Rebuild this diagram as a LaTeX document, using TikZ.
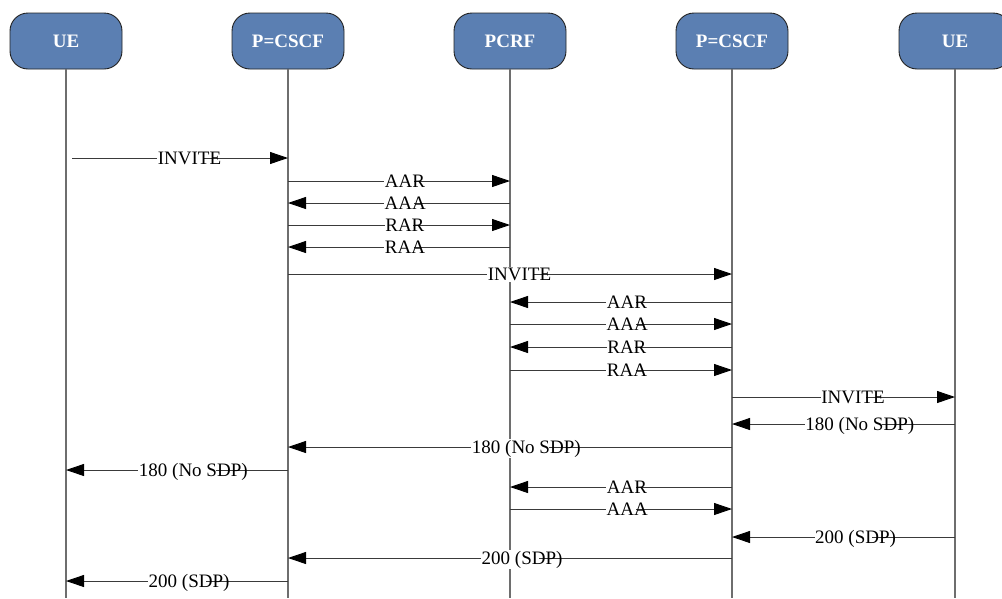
\documentclass[tikz,border=0pt]{standalone}
\usepackage{fontspec}
\setmainfont{Liberation Serif}
\usepackage{tikz}
\usetikzlibrary{arrows.meta,calc}
\definecolor{hdrblue}{HTML}{5B7FB2}
\definecolor{edge}{HTML}{222222}
\definecolor{wire}{HTML}{3A3A3A}
\definecolor{life}{HTML}{6E6E6E}
% narrow white box behind a label, text runs over its right end
\newcommand{\lblbox}[1]{\makebox[0.7\width][l]{#1}}
\tikzset{
  entity/.style={rectangle,rounded corners=18pt,draw=edge,line width=.9pt,fill=hdrblue,
    minimum width=112pt,minimum height=56pt,text=white,font=\fontsize{19}{22}\selectfont\bfseries},
  lifeline/.style={draw=life,line width=1.1pt},
  msg/.style={-{Triangle[length=18pt,width=12pt,color=black]},draw=wire,line width=.9pt},
  lbl/.style={midway,anchor=base,yshift=-6.3pt,fill=white,inner xsep=.5pt,inner ysep=1pt,
    text=black,font=\fontsize{19}{22}\selectfont}
}
\begin{document}
\begin{tikzpicture}[x=1pt,y=-1pt]
\useasboundingbox[fill=white] (0,0) rectangle (1002,598);

\node[entity] (ue1) at (66,41) {UE};
\node[entity] (pcscf1) at (288,41) {P=CSCF};
\node[entity] (pcrf) at (510,41) {PCRF};
\node[entity] (pcscf2) at (732,41) {P=CSCF};
\node[entity] (ue2) at (955,41) {UE};

\foreach \n in {ue1,pcscf1,pcrf,pcscf2,ue2}
  \draw[lifeline] (\n.south) -- (\n.south |- 0,598);

% session setup
\draw[msg] ($(ue1 |- 0,158)+(6,0)$) -- node[lbl]{\lblbox{INVITE}} (pcscf1 |- 0,158);
\draw[msg] (pcscf1 |- 0,181) -- node[lbl]{\lblbox{AAR}} (pcrf |- 0,181);
\draw[msg] (pcrf |- 0,203) -- node[lbl]{\lblbox{AAA}} (pcscf1 |- 0,203);
\draw[msg] (pcscf1 |- 0,225) -- node[lbl]{\lblbox{RAR}} (pcrf |- 0,225);
\draw[msg] (pcrf |- 0,247) -- node[lbl]{\lblbox{RAA}} (pcscf1 |- 0,247);
\draw[msg] (pcscf1 |- 0,274) -- node[lbl]{\lblbox{INVITE}} (pcscf2 |- 0,274);
\draw[msg] (pcscf2 |- 0,302) -- node[lbl]{\lblbox{AAR}} (pcrf |- 0,302);
\draw[msg] (pcrf |- 0,324) -- node[lbl]{\lblbox{AAA}} (pcscf2 |- 0,324);
\draw[msg] (pcscf2 |- 0,347) -- node[lbl]{\lblbox{RAR}} (pcrf |- 0,347);
\draw[msg] (pcrf |- 0,370) -- node[lbl]{\lblbox{RAA}} (pcscf2 |- 0,370);
\draw[msg] (pcscf2 |- 0,397) -- node[lbl]{\lblbox{INVITE}} (ue2 |- 0,397);

% ringing
\draw[msg] (ue2 |- 0,424) -- node[lbl]{\lblbox{180 (No SDP)}} (pcscf2 |- 0,424);
\draw[msg] (pcscf2 |- 0,447) -- node[lbl]{\lblbox{180 (No SDP)}} (pcscf1 |- 0,447);
\draw[msg] (pcscf1 |- 0,470) -- node[lbl]{\lblbox{180 (No SDP)}} (ue1 |- 0,470);
\draw[msg] (pcscf2 |- 0,487) -- node[lbl]{\lblbox{AAR}} (pcrf |- 0,487);
\draw[msg] (pcrf |- 0,509) -- node[lbl]{\lblbox{AAA}} (pcscf2 |- 0,509);

% answer
\draw[msg] (ue2 |- 0,537) -- node[lbl]{\lblbox{200 (SDP)}} (pcscf2 |- 0,537);
\draw[msg] (pcscf2 |- 0,558) -- node[lbl]{\lblbox{200 (SDP)}} (pcscf1 |- 0,558);
\draw[msg] (pcscf1 |- 0,581) -- node[lbl]{\lblbox{200 (SDP)}} (ue1 |- 0,581);
\end{tikzpicture}
\end{document}
